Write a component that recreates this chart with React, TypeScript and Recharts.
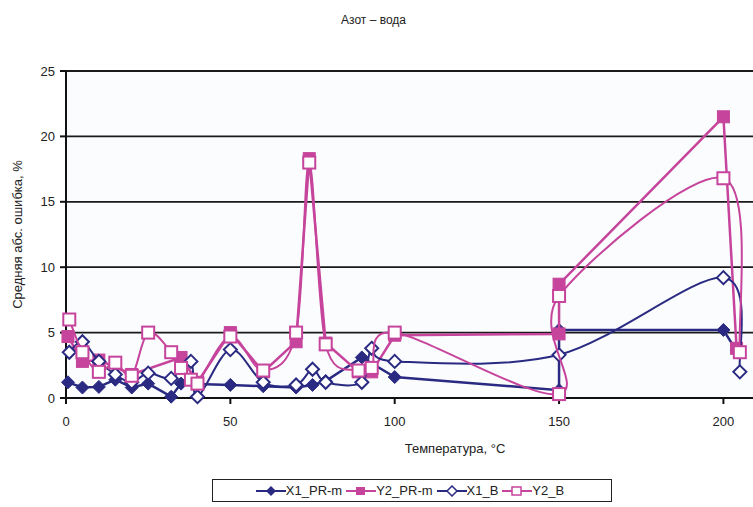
import { ScatterChart, Scatter, XAxis, YAxis, CartesianGrid } from 'recharts';

const NAVY = '#2a2a82';
const PINK = '#c6449c';
const FONT = 'Arial, "Liberation Sans", sans-serif';

const xTicks = [0, 50, 100, 150, 200];
const yTicks = [0, 5, 10, 15, 20, 25];

// [температура, ошибка] in the order Excel joins them
const x1PrM = [
  [0.6, 1.2], [5, 0.8], [10, 0.85], [15, 1.4], [20, 0.8], [25, 1.1], [32, 0.1], [35, 1.1],
  [50, 1.0], [60, 0.9], [70, 0.8], [75, 1.0], [79, 1.3], [90, 3.1], [100, 1.6],
  [150, 0.6], [150, 5.2], [200, 5.2], [204, 3.6],
];
const y2PrM = [
  [0.6, 4.7], [5, 2.8], [10, 2.9], [20, 1.8], [35, 3.1], [40, 1.2], [50, 5.0], [60, 2.0],
  [70, 4.3], [74, 18.3], [79, 4.2], [89, 2.0], [93, 2.0], [100, 4.8],
  [150, 4.9], [150, 8.7], [200, 21.5], [204, 3.8],
];
const x1B = [
  [1, 3.5], [5, 4.3], [10, 2.8], [15, 1.8], [20, 1.2], [25, 1.9], [32, 1.5], [38, 2.8],
  [40, 0.1], [50, 3.7], [60, 1.2], [70, 1.0], [75, 2.2], [79, 1.2], [90, 1.2], [93, 3.8],
  [100, 2.8], [150, 3.3], [200, 9.2], [205, 2.0],
];
const y2B = [
  [1, 6.0], [5, 3.5], [10, 2.0], [15, 2.7], [20, 1.7], [25, 5.0], [32, 3.5], [35, 2.3],
  [38, 1.4], [40, 1.1], [50, 4.7], [60, 2.1], [70, 5.0], [74, 18.0], [79, 4.1], [89, 2.1],
  [93, 2.3], [100, 5.0], [150, 0.3], [150, 7.8], [200, 16.8], [205, 3.5],
];

const toPts = (arr: number[][]) => arr.map(([x, y]) => ({ x, y }));

// Excel-style smoothed line (Catmull-Rom through the points, in data order)
const excelSmooth = (context: any) => {
  let pts: number[][] = [];
  return {
    areaStart() {},
    areaEnd() {},
    lineStart() {
      pts = [];
    },
    point(x: number, y: number) {
      pts.push([+x, +y]);
    },
    lineEnd() {
      if (!pts.length) return;
      context.moveTo(pts[0][0], pts[0][1]);
      for (let i = 0; i < pts.length - 1; i++) {
        const p0 = pts[i - 1] || pts[i];
        const p1 = pts[i];
        const p2 = pts[i + 1];
        const p3 = pts[i + 2] || p2;
        context.bezierCurveTo(
          p1[0] + (p2[0] - p0[0]) / 6,
          p1[1] + (p2[1] - p0[1]) / 6,
          p2[0] - (p3[0] - p1[0]) / 6,
          p2[1] - (p3[1] - p1[1]) / 6,
          p2[0],
          p2[1],
        );
      }
    },
  };
};

const diamond = (color: string, filled: boolean) => (p: any) => {
  const r = 6.5;
  return (
    <polygon
      points={`${p.cx},${p.cy - r} ${p.cx + r},${p.cy} ${p.cx},${p.cy + r} ${p.cx - r},${p.cy}`}
      fill={filled ? color : '#fff'}
      stroke={color}
      strokeWidth={filled ? 1 : 2}
    />
  );
};

const square = (color: string, filled: boolean) => (p: any) => {
  const h = 6;
  return (
    <rect
      x={p.cx - h}
      y={p.cy - h}
      width={h * 2}
      height={h * 2}
      fill={filled ? color : '#fff'}
      stroke={color}
      strokeWidth={filled ? 1 : 2}
    />
  );
};

function LegendIcon({ color, kind }: { color: string; kind: string }) {
  return (
    <svg width={30} height={12} style={{ verticalAlign: 'middle' }}>
      <line x1={0} y1={6} x2={30} y2={6} stroke={color} strokeWidth={2} />
      {kind === 'fd' && <polygon points="15,1 20,6 15,11 10,6" fill={color} />}
      {kind === 'fs' && <rect x={10} y={2} width={9} height={8} fill={color} />}
      {kind === 'hd' && <polygon points="15,1 20,6 15,11 10,6" fill="#fff" stroke={color} strokeWidth={1.5} />}
      {kind === 'hs' && <rect x={10} y={2} width={9} height={8} fill="#fff" stroke={color} strokeWidth={1.5} />}
    </svg>
  );
}

const legendItems = [
  { name: 'X1_PR-m', color: NAVY, kind: 'fd' },
  { name: 'Y2_PR-m', color: PINK, kind: 'fs' },
  { name: 'X1_B', color: NAVY, kind: 'hd' },
  { name: 'Y2_B', color: PINK, kind: 'hs' },
];

export default function App() {
  return (
    <div style={{ position: 'absolute', left: 0, top: 0, width: 753, height: 507, background: '#fff', fontFamily: FONT }}>
      <div style={{ position: 'absolute', left: 0, width: 753, top: 13, textAlign: 'center', fontSize: 12, color: '#222', transform: 'translateX(-3px)' }}>
        Азот – вода
      </div>
      <ScatterChart width={753} height={507} margin={{ top: 71, right: 0, bottom: 79, left: 0 }}>
        <CartesianGrid
          vertical={false}
          stroke="#1a1a1a"
          strokeWidth={1.8}
          fill="#fafcfe"
        />
        <XAxis
          type="number"
          dataKey="x"
          domain={[0, 209]}
          ticks={xTicks}
          height={30}
          tickSize={6}
          tickMargin={13}
          stroke="#111"
          strokeWidth={2}
          tick={{ fill: '#222', fontSize: 13, fontFamily: FONT }}
          label={(props: any) => (
            <text x={455} y={props.viewBox.y + 55} textAnchor="middle" fontSize={13} fill="#222" fontFamily={FONT}>
              Температура, °С
            </text>
          )}
        />
        <YAxis
          type="number"
          dataKey="y"
          domain={[0, 25]}
          ticks={yTicks}
          width={66}
          tickSize={6}
          tickMargin={5}
          stroke="#111"
          strokeWidth={2}
          tick={{ fill: '#222', fontSize: 13, fontFamily: FONT }}
          label={(props: any) => {
            const cy = props.viewBox.y + props.viewBox.height / 2;
            return (
              <text x={22} y={cy} transform={`rotate(-90, 22, ${cy})`} textAnchor="middle" fontSize={13} fill="#222" fontFamily={FONT}>
                Средняя абс. ошибка, %
              </text>
            );
          }}
        />
        <Scatter
          name="X1_PR-m"
          data={toPts(x1PrM)}
          fill={NAVY}
          line={{ stroke: NAVY, strokeWidth: 2.5 }}
          lineType="joint"
          shape={diamond(NAVY, true)}
          isAnimationActive={false}
        />
        <Scatter
          name="Y2_PR-m"
          data={toPts(y2PrM)}
          fill={PINK}
          line={{ stroke: PINK, strokeWidth: 2.5 }}
          lineType="joint"
          shape={square(PINK, true)}
          isAnimationActive={false}
        />
        <Scatter
          name="X1_B"
          data={toPts(x1B)}
          fill={NAVY}
          line={{ stroke: NAVY, strokeWidth: 2 }}
          lineType="joint"
          lineJointType={excelSmooth as any}
          shape={diamond(NAVY, false)}
          isAnimationActive={false}
        />
        <Scatter
          name="Y2_B"
          data={toPts(y2B)}
          fill={PINK}
          line={{ stroke: PINK, strokeWidth: 2 }}
          lineType="joint"
          lineJointType={excelSmooth as any}
          shape={square(PINK, false)}
          isAnimationActive={false}
        />
      </ScatterChart>
      <div
        style={{
          position: 'absolute',
          left: 212,
          top: 479,
          width: 400,
          height: 23,
          border: '1.5px solid #222',
          boxSizing: 'border-box',
          display: 'flex',
          alignItems: 'center',
          justifyContent: 'center',
          fontSize: 13,
          color: '#222',
          whiteSpace: 'nowrap',
        }}
      >
        {legendItems.map((it) => (
          <span key={it.name} style={{ display: 'inline-flex', alignItems: 'center', marginRight: 4 }}>
            <LegendIcon color={it.color} kind={it.kind} />
            {it.name}
          </span>
        ))}
      </div>
    </div>
  );
}
